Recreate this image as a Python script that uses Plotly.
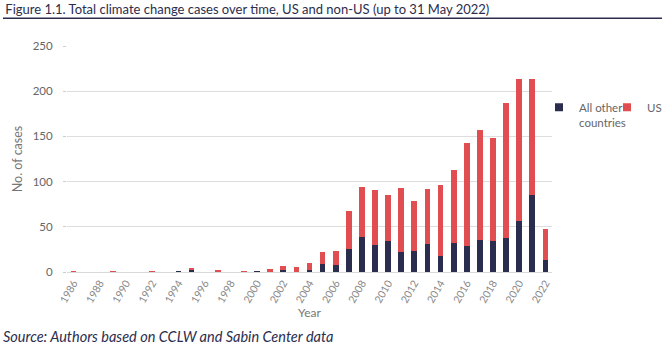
import plotly.graph_objects as go

years = list(range(1986, 2023))
other = [0, 0, 0, 0, 0, 0, 0, 0, 1, 3, 0, 0, 0, 0, 1, 1, 2, 0, 2, 9, 8,
         26, 39, 30, 34, 22, 23, 31, 18, 32, 29, 35, 34, 38, 56, 85, 13]
us = [1, 0, 0, 1, 0, 0, 1, 0, 0, 1, 0, 2, 0, 1, 0, 2, 5, 5, 8, 13, 15,
      42, 55, 61, 51, 71, 55, 61, 78, 81, 114, 122, 114, 149, 157, 129, 35]
tick_years = list(range(1986, 2023, 2))

NAVY = "#2b2d4e"
RED = "#e04e51"
FONT = "Lato"

fig = go.Figure()
fig.add_trace(go.Bar(x=years, y=other, name="All other<br>countries",
                     marker=dict(color=NAVY, line=dict(width=0)), showlegend=False))
fig.add_trace(go.Bar(x=years, y=us, name="US",
                     marker=dict(color=RED, line=dict(width=0)), showlegend=False))
# legend entries (small square symbols like the original)
fig.add_trace(go.Scatter(x=[None], y=[None], mode="markers", name="All other<br>countries",
                         marker=dict(symbol="square", size=8, color=NAVY), legend="legend"))
fig.add_trace(go.Scatter(x=[None], y=[None], mode="markers", name="US",
                         marker=dict(symbol="square", size=8, color=RED), legend="legend2"))

PW, PH = 485, 225.6
def px(x):
    return (x - 67) / PW
def py(y):
    return (272.3 - y) / PH

fig.update_layout(
    width=665, height=350,
    margin=dict(l=67, r=113, t=46, b=78, autoexpand=False),
    barmode="stack", bargap=0.56,
    plot_bgcolor="white", paper_bgcolor="white",
    font=dict(family=FONT, size=11, color="#666666"),
    title=dict(text="Figure 1.1. Total climate change cases over time, US and non-US (up to 31 May 2022)",
               x=0.008, xref="container", xanchor="left",
               y=1 - 9/350, yref="container", yanchor="middle",
               font=dict(family=FONT, size=13, color=NAVY)),
    xaxis=dict(range=[1985.5, 2022.5], tickvals=tick_years, ticktext=[str(y) for y in tick_years],
               tickangle=-60, showgrid=False, showline=True, linecolor="#d9d9d9",
               ticks="", title=dict(text="Year", font=dict(size=12, color="#777777"), standoff=0),
               tickfont=dict(size=10.5, color="#888888")),
    yaxis=dict(range=[0, 250], dtick=50, gridcolor="#dddddd", gridwidth=1,
               zeroline=False, ticks="outside", ticklen=3, tickcolor="#cccccc",
               ticklabelstandoff=8,
               title=dict(text="No. of cases", font=dict(size=12.5, color="#777777"), standoff=7),
               tickfont=dict(size=11.5, color="#666666")),
    legend=dict(x=px(539), y=py(94), xanchor="left", yanchor="top", orientation="v",
                valign="top", font=dict(size=11.5, color="#666666"), bgcolor="rgba(0,0,0,0)"),
    legend2=dict(x=px(607), y=py(94), xanchor="left", yanchor="top", orientation="v",
                 valign="top", font=dict(size=11.5, color="#666666"), bgcolor="rgba(0,0,0,0)"),
)

fig.add_shape(type="line", xref="paper", yref="paper",
              x0=px(3), x1=px(662), y0=py(19), y1=py(19),
              line=dict(color=NAVY, width=1.5))

fig.add_annotation(text="<i>Source: Authors based on CCLW and Sabin Center data</i>",
                   xref="paper", yref="paper", x=px(1), y=py(337),
                   xanchor="left", yanchor="middle", showarrow=False,
                   font=dict(family=FONT, size=14.5, color=NAVY))

fig.write_html("out.html")
